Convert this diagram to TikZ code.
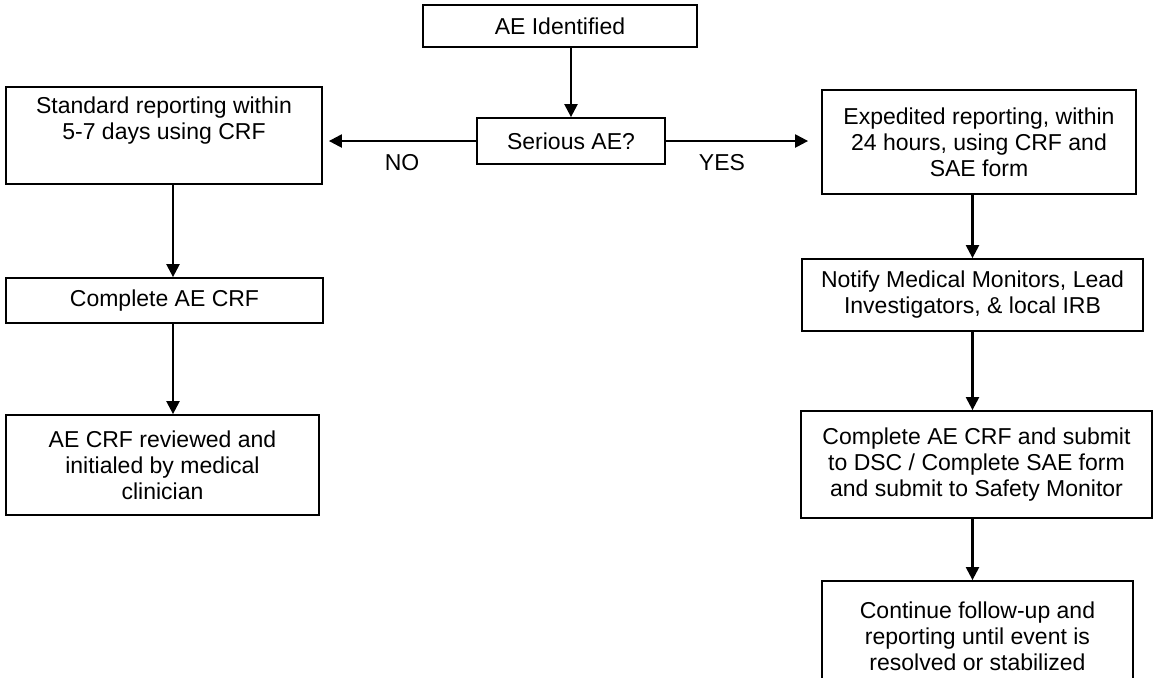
\documentclass[tikz,border=0pt]{standalone}
\usepackage{fontspec}
\setmainfont{Liberation Sans}
\usetikzlibrary{arrows.meta}
\tikzset{
  caja/.style={draw,line width=0.9pt,inner sep=0pt,align=center,font=\fontsize{11.5}{13}\selectfont},
  etiqueta/.style={draw=none,fill=none,font=\fontsize{11.5}{13}\selectfont},
  flecha/.style={line width=1.15pt,-{Triangle[width=6.5pt,length=6.5pt]}}
}
\begin{document}
\begin{tikzpicture}[x=0.5pt,y=-0.5pt]
        %\draw[help lines,step=50] (0,0) grid (1153,677);
        \useasboundingbox (0,0) rectangle (1153,677);
        \node[caja,minimum width=137pt,minimum height=21pt] (ident) at (560,26) {AE Identified};
        \node[caja,minimum width=94pt,minimum height=23pt] (serio) at (571,141) {Serious AE?};
        \node[caja,minimum width=158pt,minimum height=48.5pt] (estandar) at (164,135.5) {Standard reporting within\\5-7 days using CRF\\\strut};
        \node[caja,minimum width=158.5pt,minimum height=22.5pt] (crf) at (164.5,300.5) {Complete AE CRF};
        \node[caja,minimum width=156.5pt,minimum height=50pt] (revisado) at (162.5,465) {AE CRF reviewed and\\initialed by medical\\clinician};
        \node[caja,minimum width=157pt,minimum height=52pt] (expedito) at (979,142) {Expedited reporting, within\\24 hours, using CRF and\\SAE form};
        \node[caja,minimum width=170.5pt,minimum height=36pt] (notificar) at (972.5,295) {Notify Medical Monitors, Lead\\Investigators, \& local IRB};
        \node[caja,minimum width=175.5pt,minimum height=53.5pt] (enviar) at (976.5,464.5) {Complete AE CRF and submit\\to DSC / Complete SAE form\\and submit to Safety Monitor};
        \node[caja,minimum width=155.5pt,minimum height=55pt] (seguir) at (977.5,636) {Continue follow-up and\\reporting until event is\\resolved or stabilized};
        \node[etiqueta] (no) at (402,163) {NO};
        \node[etiqueta] (si) at (722,163) {YES};
        \coordinate (izq) at (173,0);
        % flechas
        \draw[flecha] (serio.north |- ident.south) -- (serio.north);
        \draw[flecha,shorten >=3pt] (serio.west) -- (serio.west -| estandar.east);
        \draw[flecha,shorten >=6.5pt] (serio.east) -- (serio.east -| expedito.west);
        \draw[flecha] (estandar.south -| izq) -- (crf.north -| izq);
        \draw[flecha] (crf.south -| izq) -- (revisado.north -| izq);
        \draw[flecha] (expedito.south -| notificar) -- (notificar.north);
        \draw[flecha] (notificar.south) -- (enviar.north -| notificar);
        \draw[flecha] (enviar.south -| notificar) -- (seguir.north -| notificar);
    \end{tikzpicture}
\end{document}
